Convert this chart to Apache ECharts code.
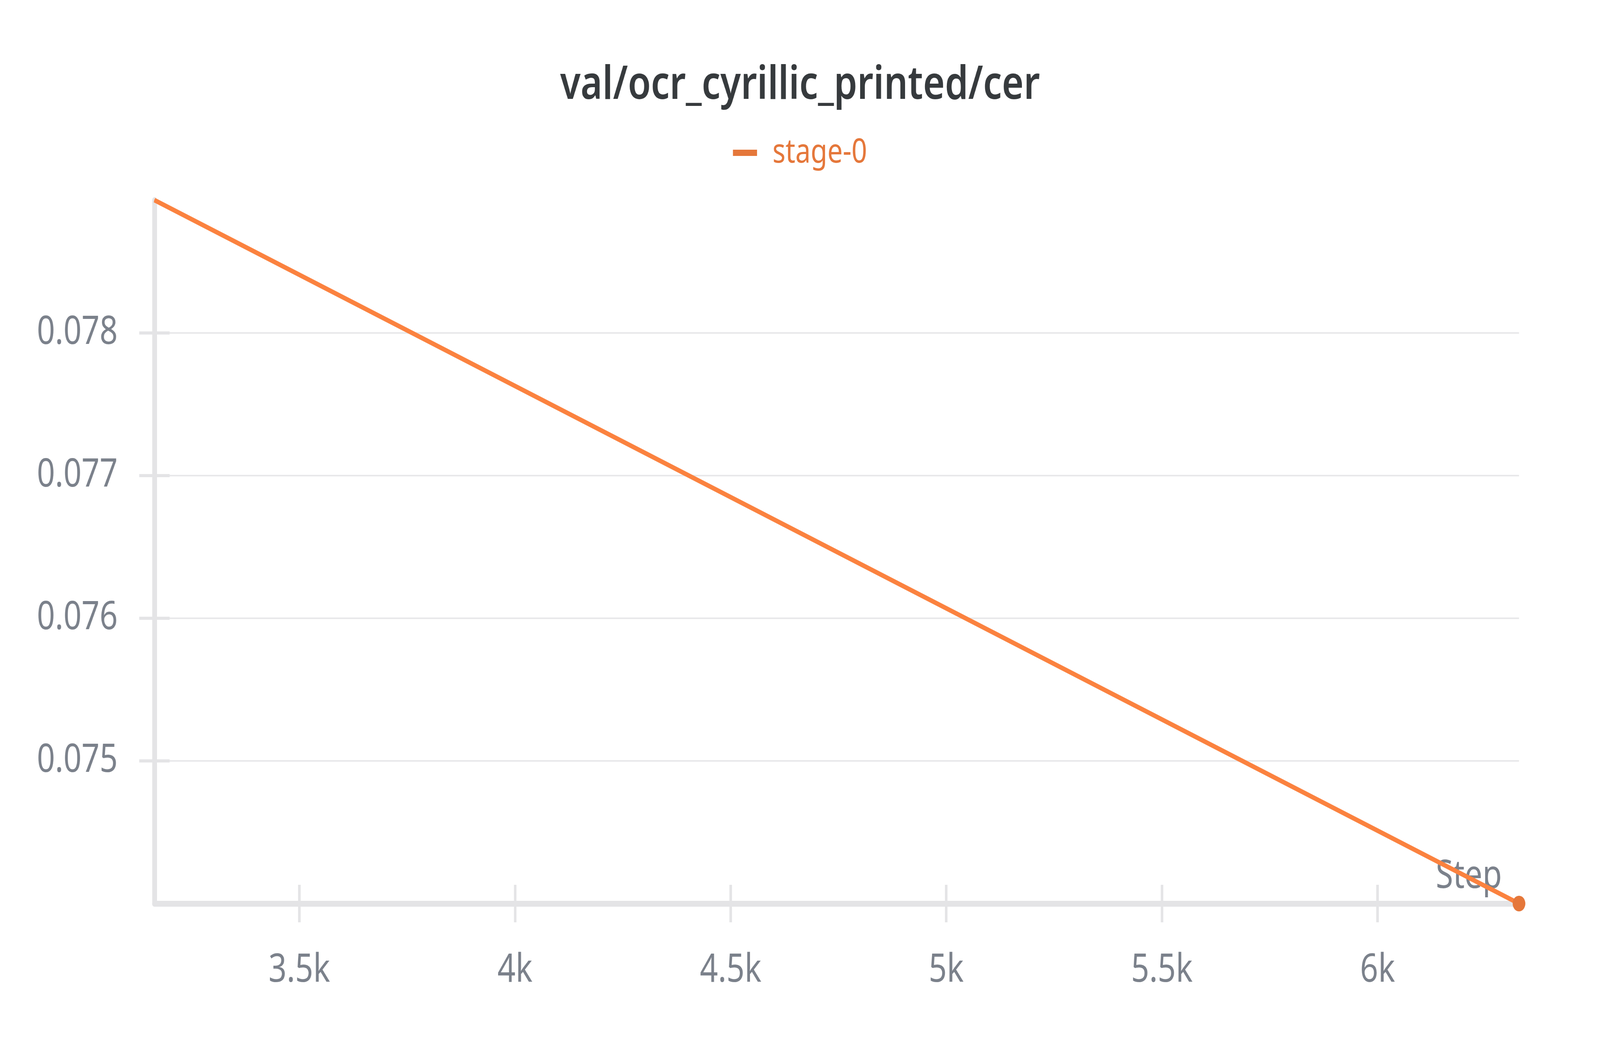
<!DOCTYPE html>
<html>
<head>
<meta charset="utf-8">
<script src="https://cdn.jsdelivr.net/npm/echarts@6/dist/echarts.min.js"></script>
<style>
html,body{margin:0;padding:0;background:#fff;overflow:hidden;}
#chart{width:5056px;height:2656px;transform-origin:0 0;}
</style>
</head>
<body>
<div id="chart"></div>
<script>
const chartTitle = 'val/ocr_cyrillic_printed/cer';
const seriesName = 'stage-0';
const steps = [3164, 6328];
const cerValues = [0.07893, 0.07400];
const xTickValues = [3500, 4000, 4500, 5000, 5500, 6000];
const yTickValues = [0.075, 0.076, 0.077, 0.078];

const FONT = 'Noto Sans';
const LABEL_COLOR = '#7b818b';
const AXIS_COLOR = '#e4e4e6';
const LINE_COLOR = '#e5773a';

// fit the 5056x2656 design into whatever viewport the browser provides
const el = document.getElementById('chart');
el.style.transform = 'scale(' + (window.innerWidth / 5056) + ',' + (window.innerHeight / 2656) + ')';

const xMin = Math.min(...steps), xMax = Math.max(...steps);
const yMin = Math.min(...cerValues), yMax = Math.max(...cerValues);

const seriesData = steps.map((s, i) => ({
  value: [s, cerValues[i]],
  symbolSize: i === steps.length - 1 ? 40 : 0
}));

const chart = echarts.init(el, null, {width: 5056, height: 2656});
chart.setOption({
  animation: false,
  backgroundColor: '#ffffff',
  title: {
    text: chartTitle,
    left: 'center',
    top: 155,
    textStyle: {fontFamily: FONT, fontSize: 118, fontWeight: 600, color: '#363a3d'}
  },
  legend: {
    top: 343,
    left: 'center',
    icon: 'rect',
    itemWidth: 76,
    itemHeight: 16,
    textStyle: {fontFamily: FONT, fontSize: 86, color: LINE_COLOR, padding: [0, 0, 0, 44]},
    data: [seriesName]
  },
  grid: {left: 488, right: 256, top: 512, bottom: 344, containLabel: false},
  xAxis: [{
    type: 'value',
    min: xMin, max: xMax,
    name: 'Step',
    nameLocation: 'end',
    nameGap: -54,
    nameTextStyle: {fontFamily: FONT, fontSize: 100, color: LABEL_COLOR, align: 'right', verticalAlign: 'bottom', padding: [0, 0, 18, 0]},
    axisLine: {show: true, lineStyle: {color: AXIS_COLOR, width: 15}},
    axisTick: {show: true, inside: false, length: 48, lineStyle: {color: AXIS_COLOR, width: 8}, customValues: xTickValues},
    axisLabel: {fontFamily: FONT, fontSize: 100, color: LABEL_COLOR, margin: 122, customValues: xTickValues,
      formatter: v => (v / 1000) + 'k'},
    splitLine: {show: false}
  }, {
    type: 'value',
    min: xMin, max: xMax,
    position: 'bottom',
    axisLine: {show: false},
    axisTick: {show: true, inside: true, length: 48, lineStyle: {color: AXIS_COLOR, width: 8}, customValues: xTickValues},
    axisLabel: {show: false},
    splitLine: {show: false}
  }],
  yAxis: [{
    type: 'value',
    min: yMin, max: yMax,
    axisLine: {show: true, lineStyle: {color: AXIS_COLOR, width: 15}},
    axisTick: {show: true, inside: false, length: 48, lineStyle: {color: AXIS_COLOR, width: 8}, customValues: yTickValues},
    axisLabel: {fontFamily: FONT, fontSize: 100, color: LABEL_COLOR, margin: 116, customValues: yTickValues,
      formatter: v => v.toFixed(3)},
    splitLine: {show: true, lineStyle: {color: '#e8e8ea', width: 4}}
  }, {
    type: 'value',
    min: yMin, max: yMax,
    position: 'left',
    axisLine: {show: false},
    axisTick: {show: true, inside: true, length: 48, lineStyle: {color: AXIS_COLOR, width: 8}, customValues: yTickValues},
    axisLabel: {show: false},
    splitLine: {show: false}
  }],
  series: [{
    name: seriesName,
    type: 'line',
    xAxisIndex: 0,
    yAxisIndex: 0,
    data: seriesData,
    symbol: 'circle',
    showSymbol: true,
    lineStyle: {color: LINE_COLOR, width: 12},
    itemStyle: {color: LINE_COLOR},
    z: 5
  }]
});
</script>
</body>
</html>
